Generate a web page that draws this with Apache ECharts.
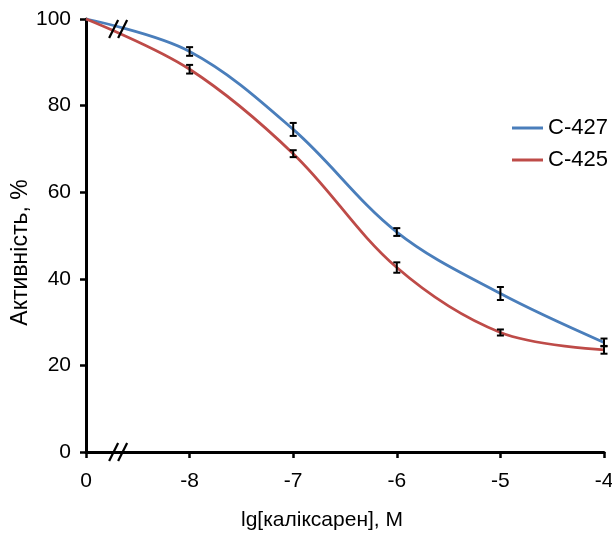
<!DOCTYPE html>
<html><head><meta charset="utf-8">
<script src="https://cdn.jsdelivr.net/npm/echarts@6/dist/echarts.min.js"></script>
<style>html,body{margin:0;padding:0;background:#fff}#c{width:612px;height:538px}</style>
</head><body><div id="c"></div>
<script>
var xLabels = ['0', '-8', '-7', '-6', '-5', '-4'];
var xPos = [0, 1, 2, 3, 4, 5];
var c427 = [100, 92.5, 74.5, 50.8, 36.6, 25.3];
var c427err = [0, 1.0, 1.5, 0.9, 1.5, 0.9];
var c425 = [100, 88.4, 68.9, 42.6, 27.6, 23.6];
var c425err = [0, 1.0, 0.8, 1.2, 0.7, 0.9];
var seriesNames = ['C-427', 'C-425'];
var breakX = 0.31;
var breakY = [97.7, 0];

var FONT = 'Liberation Sans, Arial, sans-serif';

function pairs(v){ return xPos.map(function(x,i){ return [x, v[i]]; }); }
function errData(v,e){ var out=[]; xPos.forEach(function(x,i){ if(e[i]>0) out.push([x, v[i]-e[i], v[i]+e[i]]); }); return out; }

function errRender(params, api){
  var x = api.value(0), lo = api.value(1), hi = api.value(2);
  var p1 = api.coord([x, lo]), p2 = api.coord([x, hi]);
  var w = 3.5;
  var st = {stroke:'#000', lineWidth:2};
  return {type:'group', children:[
    {type:'line', shape:{x1:p1[0],y1:p1[1],x2:p2[0],y2:p2[1]}, style:st},
    {type:'line', shape:{x1:p1[0]-w,y1:p1[1],x2:p1[0]+w,y2:p1[1]}, style:st},
    {type:'line', shape:{x1:p2[0]-w,y1:p2[1],x2:p2[0]+w,y2:p2[1]}, style:st}
  ]};
}
function breakRender(params, api){
  var p = api.coord([api.value(0), api.value(1)]);
  var st = {stroke:'#000', lineWidth:2.2};
  var ch = [];
  [-4.5, 4.5].forEach(function(d){
    ch.push({type:'line', shape:{x1:p[0]+d-4.5, y1:p[1]+9, x2:p[0]+d+4.5, y2:p[1]-9}, style:st});
  });
  return {type:'group', children:ch};
}

var chart = echarts.init(document.getElementById('c'));
chart.setOption({
  animation:false,
  grid:{left:86, right:8, top:19, bottom:86, containLabel:false, outerBoundsMode:'none'},
  legend:{
    orient:'vertical', left:512, top:117, padding:0, itemGap:10, itemWidth:31, itemHeight:3,
    icon:'rect',
    textStyle:{fontFamily:FONT, fontSize:22, lineHeight:22, color:'#000'},
    data:seriesNames
  },
  xAxis:{
    type:'value', min:0, max:5, interval:1,
    name:'lg[каліксарен], М', nameLocation:'middle', nameGap:58, nameMoveOverlap:false,
    nameTextStyle:{fontFamily:FONT, fontSize:21, color:'#000', padding:[0,46,0,0]},
    axisLine:{show:true, lineStyle:{color:'#000', width:3}},
    axisTick:{show:true, length:6, lineStyle:{color:'#000', width:2.5}},
    axisLabel:{fontFamily:FONT, fontSize:21, color:'#000', margin:19,
      formatter:function(v){ return xLabels[Math.round(v)]; }},
    splitLine:{show:false}
  },
  yAxis:{
    type:'value', min:0, max:100, interval:20,
    name:'Активність, %', nameLocation:'middle', nameGap:54, nameMoveOverlap:false,
    nameTextStyle:{fontFamily:FONT, fontSize:23, color:'#000', padding:[0,34,0,0]},
    axisLine:{show:true, lineStyle:{color:'#000', width:3}},
    axisTick:{show:true, length:6, lineStyle:{color:'#000', width:2.5}},
    axisLabel:{fontFamily:FONT, fontSize:21, color:'#000', margin:15},
    splitLine:{show:false}
  },
  series:[
    {name:seriesNames[0], type:'line', smooth:0.35, showSymbol:false, symbol:'none',
     data:pairs(c427), lineStyle:{color:'#4a7ebb', width:2.8}, itemStyle:{color:'#4a7ebb'}, z:2},
    {name:seriesNames[1], type:'line', smooth:0.35, showSymbol:false, symbol:'none',
     data:pairs(c425), lineStyle:{color:'#be4b48', width:2.8}, itemStyle:{color:'#be4b48'}, z:2},
    {type:'custom', renderItem:errRender, data:errData(c427,c427err), z:5, silent:true, clip:false},
    {type:'custom', renderItem:errRender, data:errData(c425,c425err), z:5, silent:true, clip:false},
    {type:'custom', renderItem:breakRender, data:breakY.map(function(y){return [breakX,y];}), z:6, silent:true, clip:false}
  ]
});
</script></body></html>
